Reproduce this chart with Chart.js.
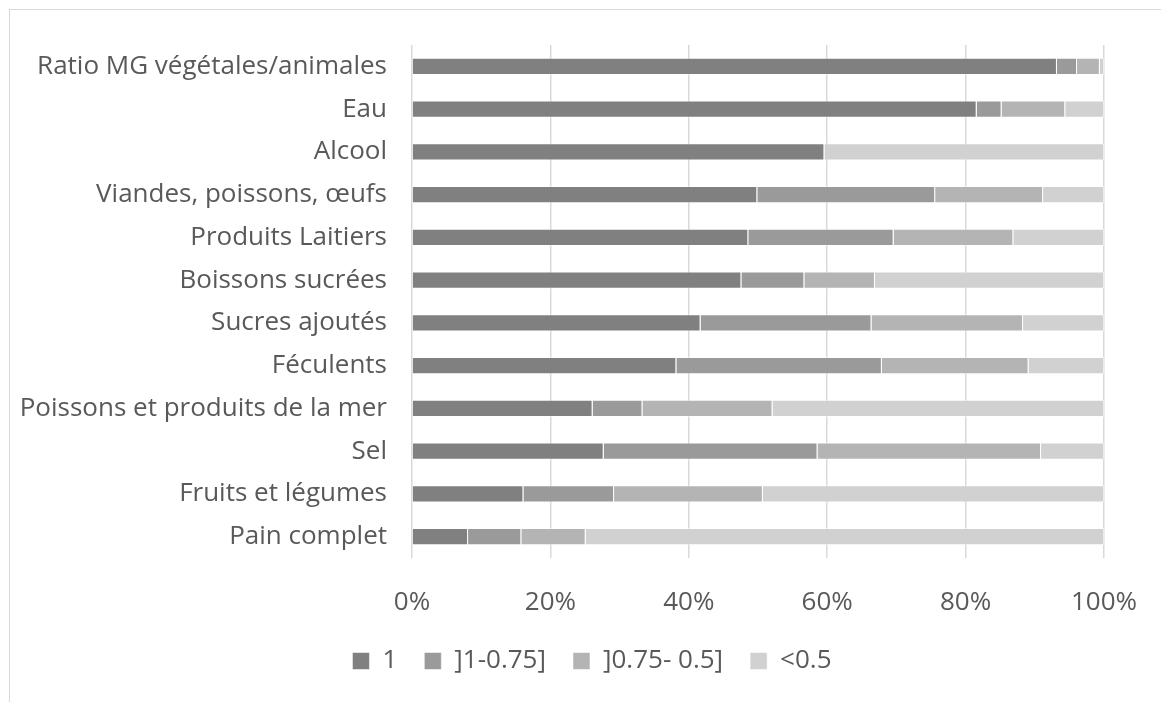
<!DOCTYPE html>
<html>
<head>
<meta charset="utf-8">
<script src="https://cdn.jsdelivr.net/npm/chart.js@4.4.1/dist/chart.umd.min.js"></script>
<style>
  html, body { margin: 0; padding: 0; background: #fff; overflow: hidden; }
  #frame { position: absolute; left: 9px; top: 9px; width: 1200px; height: 760px; border: 1px solid #d9d9d9; }
  #wrap { position: absolute; left: 10px; top: 10px; }
</style>
</head>
<body>
<div id="frame"></div>
<div id="wrap"><canvas id="chart" width="1164" height="692"></canvas></div>
<script>
const categories = [
  "Ratio MG végétales/animales",
  "Eau",
  "Alcool",
  "Viandes, poissons, œufs",
  "Produits Laitiers",
  "Boissons sucrées",
  "Sucres ajoutés",
  "Féculents",
  "Poissons et produits de la mer",
  "Sel",
  "Fruits et légumes",
  "Pain complet"
];
const seriesNames = ["1", "]1-0.75]", "]0.75- 0.5]", "<0.5"];
const score1 = [93.2, 81.6, 59.6, 49.9, 48.6, 47.6, 41.7, 38.2, 26.1, 27.7, 16.1, 8.1];
const score075 = [2.9, 3.6, 0, 25.7, 21.0, 9.1, 24.7, 29.7, 7.2, 30.9, 13.1, 7.7];
const score05 = [3.3, 9.2, 0, 15.6, 17.3, 10.2, 21.9, 21.2, 18.8, 32.3, 21.5, 9.3];
const scoreLow = [0.6, 5.6, 40.4, 8.8, 13.1, 33.1, 11.7, 10.9, 47.9, 9.1, 49.3, 74.9];
const tickValues = [0, 20, 40, 60, 80, 100];

const colors = ["#808080", "#9a9a9a", "#b4b4b4", "#d1d1d1"];
const textColor = "#595959";
const font = { family: "'Open Sans', sans-serif", size: 26 };

function makeDataset(label, values, color) {
  return {
    label: label,
    data: values,
    backgroundColor: color,
    borderColor: "rgba(255,255,255,0.5)",
    borderWidth: 1,
    categoryPercentage: 0.8,
    barPercentage: 0.5
  };
}

// the legend is centred on the whole chart frame, which runs past the plot
const shiftLegend = {
  id: "shiftLegend",
  afterLayout(chart) {
    chart.legend.left += 35;
    chart.legend.right += 35;
  }
};

const ctx = document.getElementById("chart").getContext("2d");
new Chart(ctx, {
  type: "bar",
  data: {
    labels: categories,
    datasets: [
      makeDataset(seriesNames[0], score1, colors[0]),
      makeDataset(seriesNames[1], score075, colors[1]),
      makeDataset(seriesNames[2], score05, colors[2]),
      makeDataset(seriesNames[3], scoreLow, colors[3])
    ]
  },
  plugins: [shiftLegend],
  options: {
    indexAxis: "y",
    responsive: false,
    animation: false,
    devicePixelRatio: 1,
    layout: { padding: { top: 35, right: 70, bottom: 18, left: 0 } },
    scales: {
      x: {
        stacked: true,
        min: 0,
        max: 100,
        afterBuildTicks: (scale) => {
          scale.ticks = tickValues.map((v) => ({ value: v }));
        },
        afterFit: (scale) => { scale.height = 63; },
        grid: { color: "#d9d9d9", lineWidth: 1.5, drawTicks: false },
        border: { display: false },
        ticks: {
          padding: 29,
          color: textColor,
          font: font,
          callback: (v) => v + "%"
        }
      },
      y: {
        stacked: true,
        afterFit: (scale) => {
          scale.width = 402;
          scale.paddingTop = 0;
          scale.paddingBottom = 0;
        },
        grid: { display: false, drawTicks: false },
        border: { display: false },
        ticks: { padding: 25, color: textColor, font: font, autoSkip: false }
      }
    },
    plugins: {
      tooltip: { enabled: false },
      legend: {
        position: "bottom",
        labels: {
          boxWidth: 17,
          boxHeight: 17,
          padding: 27,
          color: textColor,
          font: font
        }
      }
    }
  }
});
</script>
</body>
</html>
